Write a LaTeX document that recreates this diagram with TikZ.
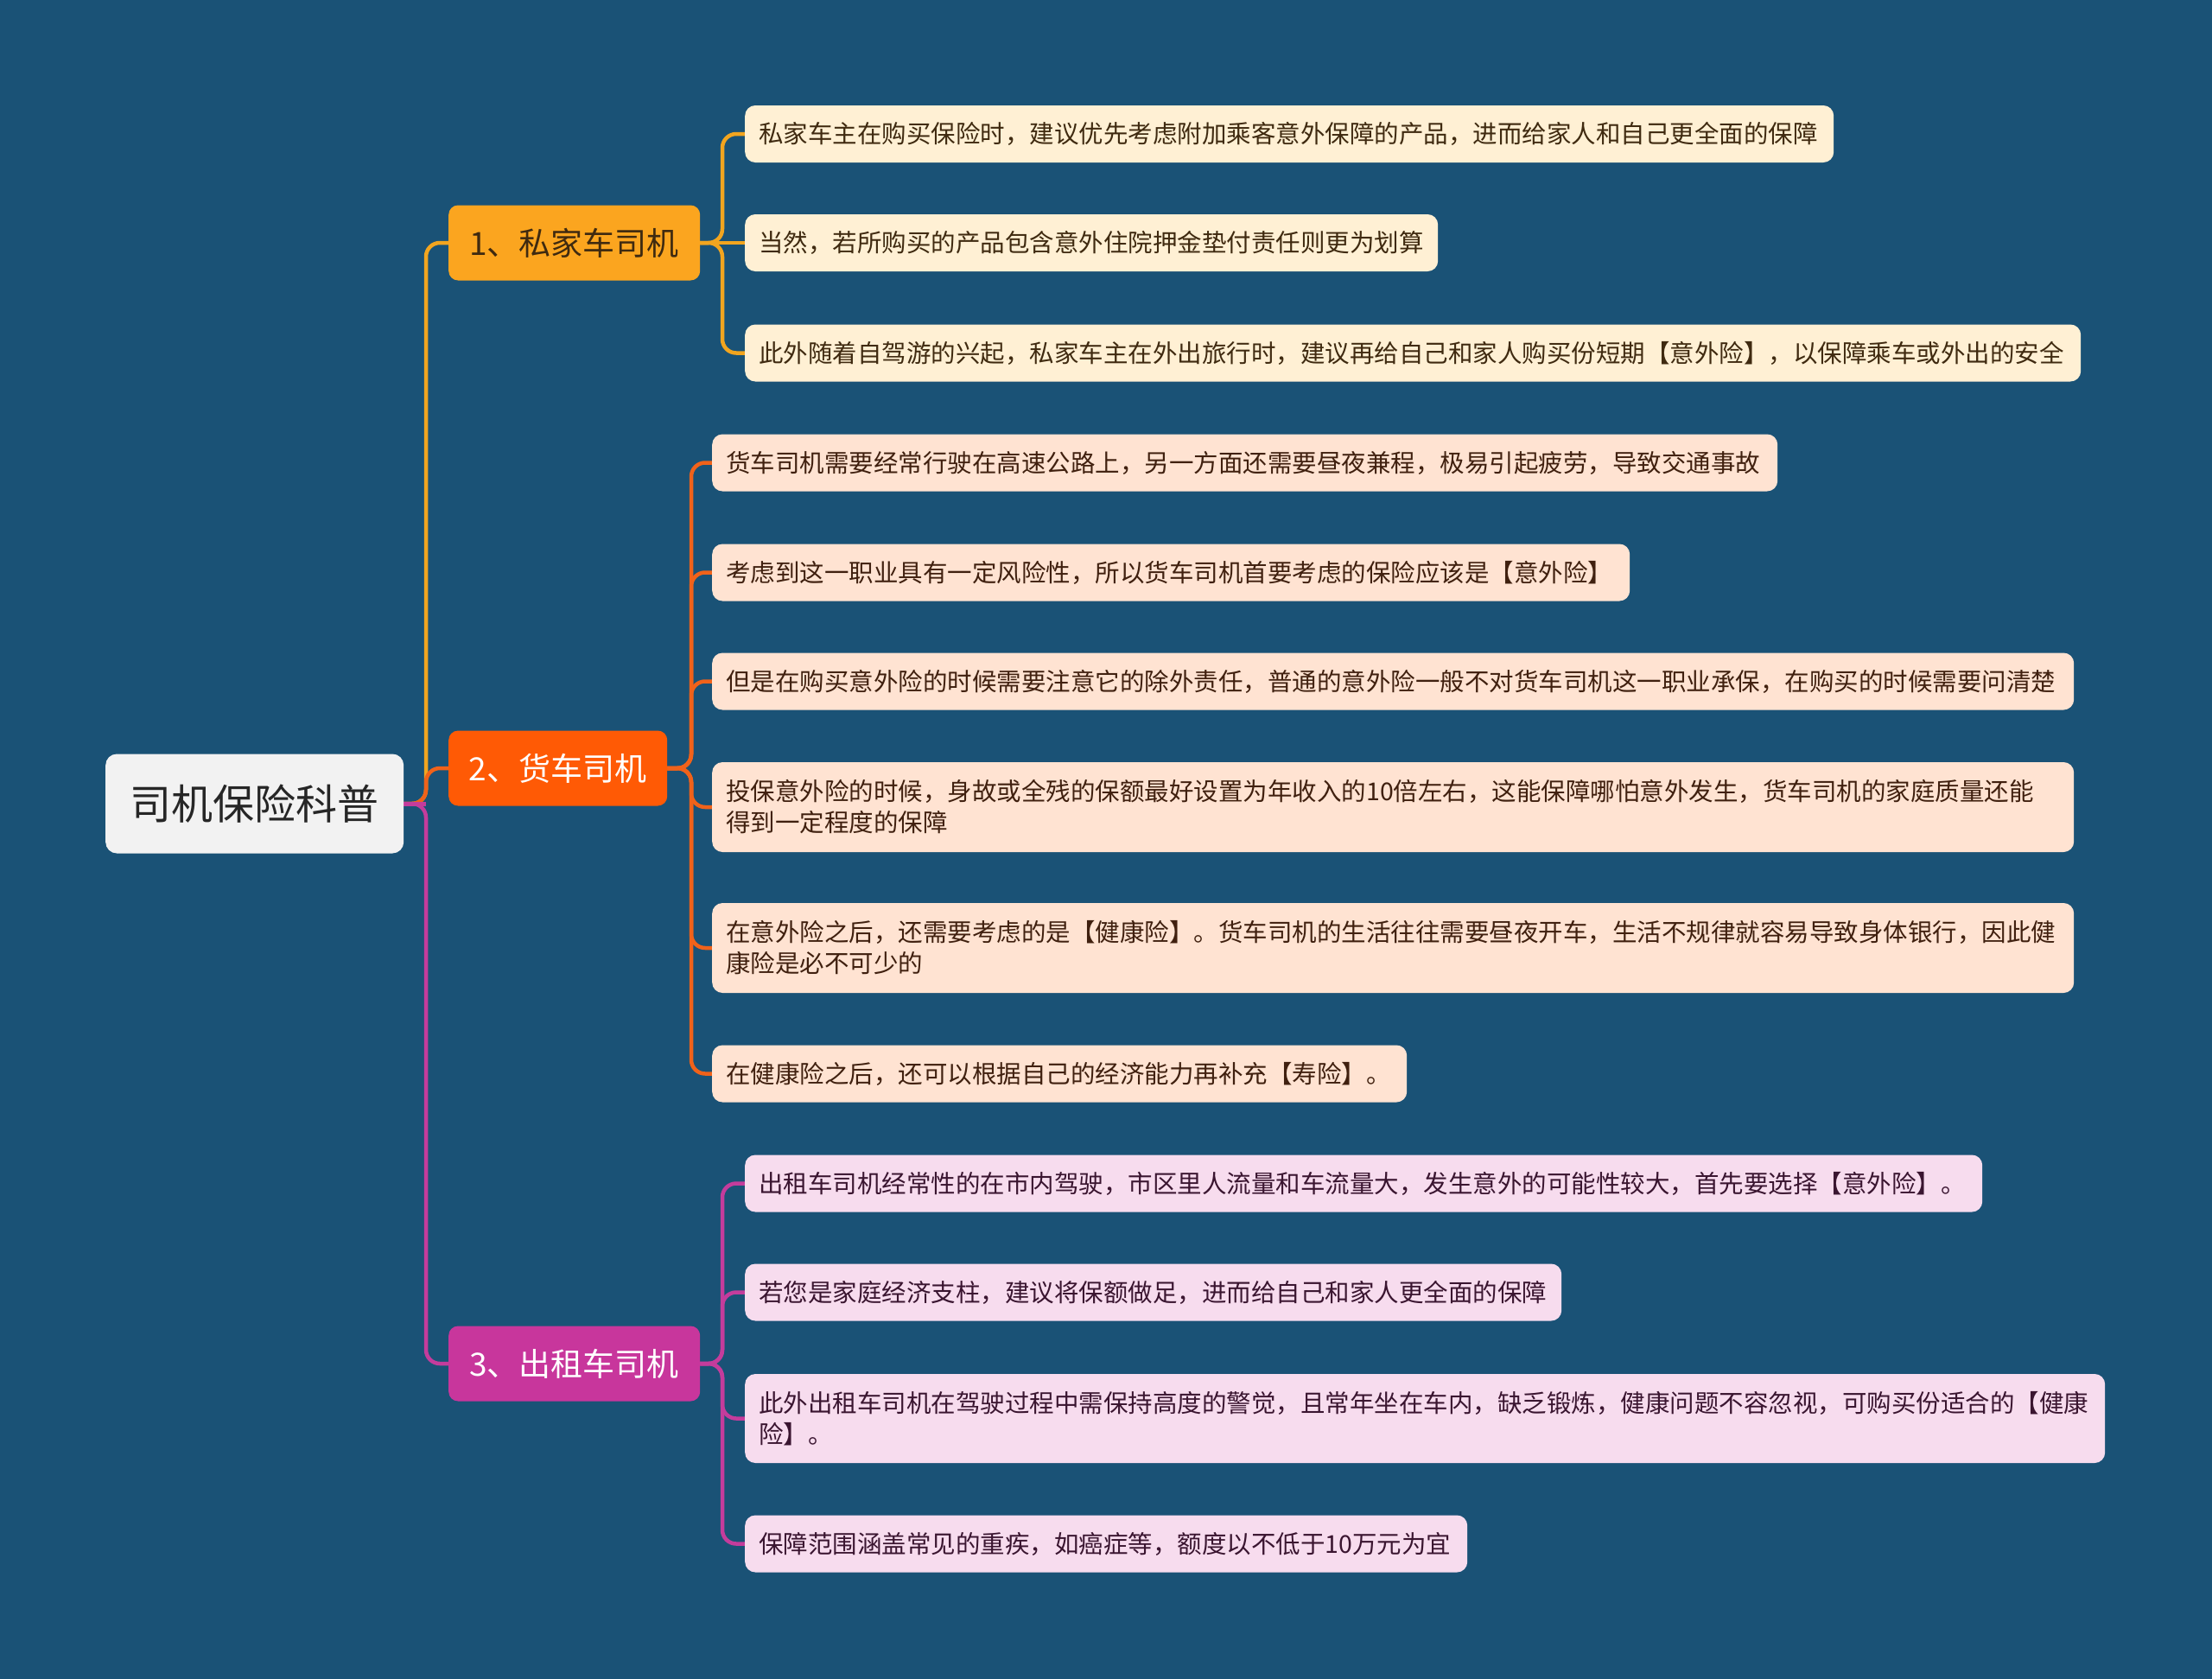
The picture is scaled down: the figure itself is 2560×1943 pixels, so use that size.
\documentclass[tikz,border=0pt]{standalone}
\usepackage{fontspec}
\setmainfont{Noto Sans CJK SC}
\usetikzlibrary{positioning}
\definecolor{bgc}{HTML}{1A5276}
\definecolor{cA}{HTML}{F2A51F}
\definecolor{cB}{HTML}{F0621A}
\definecolor{cC}{HTML}{C43C9C}
\definecolor{fA}{HTML}{FBA51F}
\definecolor{fB}{HTML}{FF5A05}
\definecolor{fC}{HTML}{C8369C}
\definecolor{lA}{HTML}{FFF0D4}
\definecolor{lB}{HTML}{FFE3D2}
\definecolor{lC}{HTML}{F7DCEE}
\definecolor{tA}{HTML}{3F2A10}
\definecolor{tB}{HTML}{40200F}
\definecolor{tC}{HTML}{3A1530}
\definecolor{rootfill}{HTML}{F2F2F2}
\pgfdeclarelayer{bglayer}
\pgfdeclarelayer{edgelayer}
\pgfsetlayers{bglayer,edgelayer,main}
\tikzset{
  leafbox/.style={rounded corners=12pt, anchor=west, inner xsep=16pt, inner ysep=0pt,
    font=\fontsize{28.5}{36}\selectfont, align=left, minimum height=66pt},
  branchbox/.style={rounded corners=11pt, anchor=west, inner sep=0pt,
    font=\fontsize{37}{44}\selectfont, minimum height=87pt},
  rootbox/.style={rounded corners=13pt, anchor=west, inner sep=0pt, fill=rootfill,
    text=black!85, font=\fontsize{48}{56}\selectfont, minimum width=345pt, minimum height=115pt},
  lnk/.style={line width=4.5pt, rounded corners=16pt, line cap=round},
  leafA/.style={leafbox, fill=lA, text=tA},
  leafB/.style={leafbox, fill=lB, text=tB},
  leafC/.style={leafbox, fill=lC, text=tC},
}
\begin{document}
\begin{tikzpicture}[x=1pt,y=-1pt]
\begin{pgfonlayer}{bglayer}
\fill[bgc] (0,0) rectangle (2560,1943);
\end{pgfonlayer}
\useasboundingbox (0,0) rectangle (2560,1943);

% root
\node[rootbox] (R) at (122,930) {司机保险科普};

% branches
\node[branchbox, fill=fA, text=tA, minimum width=291pt] (B1) at (519,281) {1、私家车司机};
\node[branchbox, fill=fB, text=white, minimum width=253pt] (B2) at (519,889) {2、货车司机};
\node[branchbox, fill=fC, text=white, minimum width=291pt] (B3) at (519,1578) {3、出租车司机};

% leaves branch 1
\node[leafA, text width=1228pt] (A1) at (862,155) {私家车主在购买保险时，建议优先考虑附加乘客意外保障的产品，进而给家人和自己更全面的保障};
\node[leafA, text width=770pt] (A2) at (862,281) {当然，若所购买的产品包含意外住院押金垫付责任则更为划算};
\node[leafA, text width=1514pt] (A3) at (862,408.5) {此外随着自驾游的兴起，私家车主在外出旅行时，建议再给自己和家人购买份短期【意外险】，以保障乘车或外出的安全};

% leaves branch 2
\node[leafB, text width=1201pt] (P1) at (824,535.5) {货车司机需要经常行驶在高速公路上，另一方面还需要昼夜兼程，极易引起疲劳，导致交通事故};
\node[leafB, text width=1030pt] (P2) at (824,662.5) {考虑到这一职业具有一定风险性，所以货车司机首要考虑的保险应该是【意外险】};
\node[leafB, text width=1544pt] (P3) at (824,788.5) {但是在购买意外险的时候需要注意它的除外责任，普通的意外险一般不对货车司机这一职业承保，在购买的时候需要问清楚};
\node[leafB, text width=1544pt, minimum height=104pt] (P4) at (824,934) {投保意外险的时候，身故或全残的保额最好设置为年收入的10倍左右，这能保障哪怕意外发生，货车司机的家庭质量还能\\得到一定程度的保障};
\node[leafB, text width=1544pt, minimum height=104pt] (P5) at (824,1097) {在意外险之后，还需要考虑的是【健康险】。货车司机的生活往往需要昼夜开车，生活不规律就容易导致身体银行，因此健\\康险是必不可少的};
\node[leafB, text width=772pt] (P6) at (824,1242.5) {在健康险之后，还可以根据自己的经济能力再补充【寿险】。};

% leaves branch 3
\node[leafC, text width=1400pt] (C1) at (862,1369.5) {出租车司机经常性的在市内驾驶，市区里人流量和车流量大，发生意外的可能性较大，首先要选择【意外险】。};
\node[leafC, text width=913pt] (C2) at (862,1495.5) {若您是家庭经济支柱，建议将保额做足，进而给自己和家人更全面的保障};
\node[leafC, text width=1542pt, minimum height=103pt] (C3) at (862,1641.5) {此外出租车司机在驾驶过程中需保持高度的警觉，且常年坐在车内，缺乏锻炼，健康问题不容忽视，可购买份适合的【健康\\险】。};
\node[leafC, text width=804pt] (C4) at (862,1786.5) {保障范围涵盖常见的重疾，如癌症等，额度以不低于10万元为宜};

\begin{pgfonlayer}{edgelayer}
% trunk
\coordinate (T) at (493,930);
\draw[lnk, cA] (R.east) -- (T) |- (B1.west);
\draw[lnk, cB] (R.east) -- (T) |- (B2.west);
\draw[lnk, cC] (R.east) -- (T) |- (B3.west);
\draw[line width=5pt, cC] (R.east) -- (T);
% branch 1
\coordinate (J1) at (836,281);
\foreach \n in {A1,A3}{\draw[lnk, cA] (B1.east) -- (J1) |- (\n.west);}
\draw[lnk, cA] (B1.east) -- (A2.west);
% branch 2
\coordinate (J2) at (800,889);
\foreach \n in {P1,P2,P3,P4,P5,P6}{\draw[lnk, cB] (B2.east) -- (J2) |- (\n.west);}
% branch 3
\coordinate (J3) at (836,1578);
\foreach \n in {C1,C2,C3,C4}{\draw[lnk, cC] (B3.east) -- (J3) |- (\n.west);}
\end{pgfonlayer}
\end{tikzpicture}
\end{document}
